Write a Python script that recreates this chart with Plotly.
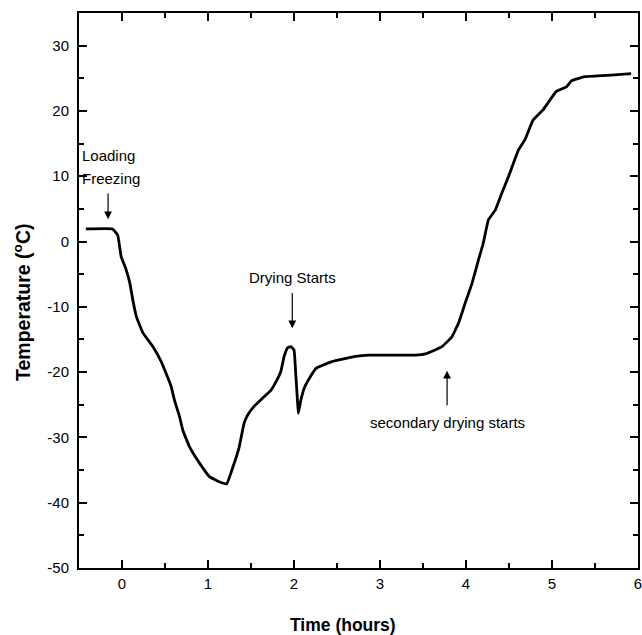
import plotly.graph_objects as go

# Time (hours) and temperature (°C)
time_h = [-0.42, -0.11, -0.05, -0.01, 0.04, 0.09, 0.125, 0.167, 0.243, 0.36, 0.456,
          0.572, 0.61, 0.669, 0.707, 0.784, 0.90, 1.016, 1.13, 1.217, 1.306, 1.364,
          1.42, 1.46, 1.538, 1.634, 1.731, 1.79, 1.847, 1.885, 1.924, 1.963, 2.0,
          2.02, 2.04, 2.05, 2.08, 2.117, 2.19, 2.26, 2.44, 2.716, 2.87, 3.10, 3.41,
          3.527, 3.64, 3.72, 3.80, 3.836, 3.913, 3.99, 4.07, 4.145, 4.20, 4.26, 4.34,
          4.416, 4.493, 4.609, 4.686, 4.78, 4.898, 5.05, 5.168, 5.226, 5.38, 5.69, 5.92]
temp_c = [1.93, 1.93, 1.0, -2.3, -4.0, -6.3, -8.9, -11.5, -14.0, -16.1, -18.4,
          -22.2, -24.3, -26.8, -28.9, -31.4, -33.9, -36.0, -36.8, -37.1, -33.9, -31.4,
          -27.8, -26.6, -25.2, -24.0, -22.8, -21.5, -19.9, -17.6, -16.3, -16.1, -16.6,
          -20.2, -24.3, -26.3, -24.3, -22.5, -20.7, -19.4, -18.4, -17.6, -17.4, -17.4, -17.4,
          -17.2, -16.6, -16.1, -15.1, -14.6, -12.5, -9.45, -6.4, -2.8, -0.3, 3.3, 4.8,
          7.4, 9.9, 14.0, 15.6, 18.6, 20.2, 23.0, 23.7, 24.6, 25.25, 25.5, 25.7]

# Arrows: x position, arrow tip y, arrow tail y
arrow_x = [-0.162, 1.98, 3.78]
arrow_tip = [3.4, -13.3, -19.8]
arrow_tail = [7.6, -7.67, -25.3]

# Labels: text, x, y, anchor
label_text = ["Loading", "Freezing", "Drying Starts", "secondary drying starts"]
label_x = [-0.49, -0.49, 1.98, 3.78]
label_y = [13.1, 9.7, -5.5, -27.7]
label_anchor = ["left", "left", "center", "center"]

x_ticks = [0, 1, 2, 3, 4, 5, 6]
y_ticks = [-50, -40, -30, -20, -10, 0, 10, 20, 30]

FONT = "Arial, Liberation Sans, Helvetica, sans-serif"

fig = go.Figure()
fig.add_trace(go.Scatter(x=time_h, y=temp_c, mode="lines",
                         line=dict(color="black", width=2.8, shape="spline", smoothing=0.3),
                         showlegend=False, hoverinfo="skip"))

for xa, tip, tail in zip(arrow_x, arrow_tip, arrow_tail):
    fig.add_annotation(x=xa, y=tip, ax=xa, ay=tail,
                       xref="x", yref="y", axref="x", ayref="y",
                       text="", showarrow=True, arrowhead=2, arrowsize=1.3,
                       arrowwidth=1.2, arrowcolor="black")

for t, lx, ly, anc in zip(label_text, label_x, label_y, label_anchor):
    fig.add_annotation(x=lx, y=ly, xref="x", yref="y", text=t,
                       showarrow=False, xanchor=anc, yanchor="middle",
                       font=dict(family=FONT, size=15, color="black"))

axis_common = dict(showline=True, linecolor="black", linewidth=2, mirror="allticks",
                   ticks="inside", ticklen=8, tickwidth=2, tickcolor="black",
                   showgrid=False, zeroline=False, automargin=False,
                   ticklabeloverflow="allow",
                   tickfont=dict(family=FONT, size=15, color="black"))

fig.update_xaxes(range=[-0.5, 6], tickvals=x_ticks, ticktext=[str(v) for v in x_ticks],
                 minor=dict(ticks="inside", ticklen=5, tickwidth=2, tickcolor="black",
                            dtick=0.5, tick0=0),
                 ticklabelstandoff=1, **axis_common)
fig.update_yaxes(range=[-50, 35], tickvals=y_ticks, ticktext=[str(v) for v in y_ticks],
                 minor=dict(ticks="inside", ticklen=5, tickwidth=2, tickcolor="black",
                            dtick=5, tick0=0),
                 ticklabelstandoff=5, **axis_common)

W, H = 642, 635
L, R, T, B = 79, 4, 13, 67
fig.update_layout(width=W, height=H, margin=dict(l=L, r=R, t=T, b=B, autoexpand=False),
                  plot_bgcolor="white", paper_bgcolor="white",
                  font=dict(family=FONT, color="black"))

pw, ph = W - L - R, H - T - B
fig.add_annotation(x=(343 - L) / pw, y=(H - B - 625) / ph, xref="paper", yref="paper",
                   text="<b>Time (hours)</b>", showarrow=False,
                   xanchor="center", yanchor="middle",
                   font=dict(family=FONT, size=17.5, color="black"))
fig.add_annotation(x=(22 - L) / pw, y=(H - B - 302) / ph, xref="paper", yref="paper",
                   text="<b>Temperature (<sup>o</sup>C)</b>", showarrow=False, textangle=-90,
                   xanchor="center", yanchor="middle",
                   font=dict(family=FONT, size=19.5, color="black"))

fig.write_html("out.html", config={"displayModeBar": False},
               post_script="document.body.style.margin='0';document.body.style.overflow='hidden';")
